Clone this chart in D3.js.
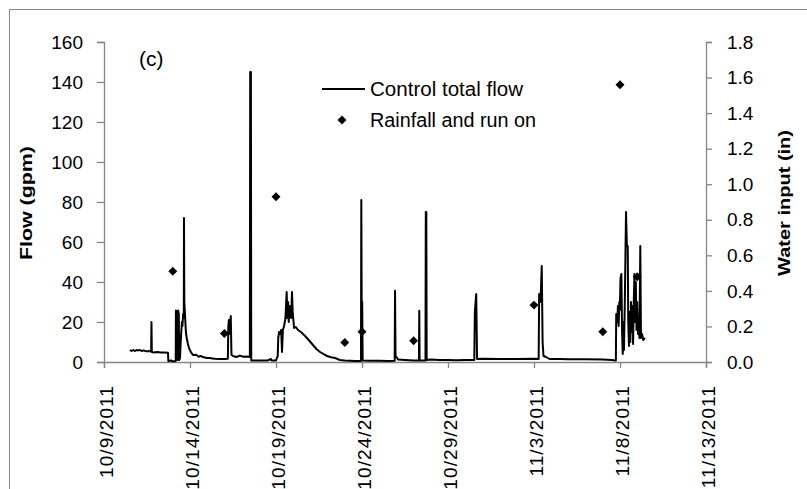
<!DOCTYPE html>
<html><head><meta charset="utf-8">
<script src="https://cdn.jsdelivr.net/npm/d3@7"></script>
<style>
body{margin:0;background:#fff;}
svg{display:block;font-family:"Liberation Sans",Arial,sans-serif;}
</style></head>
<body><svg id="c" width="807" height="489"></svg>
<script>
// ---- data ----
const startDate = "2011-10-09";
const xTickLabels = ["10/9/2011","10/14/2011","10/19/2011","10/24/2011","10/29/2011","11/3/2011","11/8/2011","11/13/2011"];
const flowTicks = [0,20,40,60,80,100,120,140,160];
const waterTicks = [0,0.2,0.4,0.6,0.8,1.0,1.2,1.4,1.6,1.8];
// flow: days after 10/9/2011 00:00 and gpm
const flowDay = [1.5,1.6,1.7,1.8,1.9,2.0,2.1,2.2,2.3,2.4,2.5,2.6,2.74,2.76,2.78,2.9,3.1,3.3,3.5,3.72,3.74,3.9,4.0,4.17,4.18,4.22,4.24,4.28,4.31,4.35,4.37,4.42,4.46,4.49,4.53,4.56,4.6,4.64,4.65,4.67,4.71,4.76,4.81,4.88,4.94,5.05,5.17,5.35,5.5,5.6,5.8,6.0,6.16,6.3,6.45,6.7,7.0,7.2,7.23,7.26,7.28,7.33,7.37,7.41,7.5,7.7,7.9,8.1,8.3,8.48,8.5,8.54,8.56,9.0,9.5,9.7,9.75,10.0,10.1,10.13,10.18,10.23,10.3,10.35,10.4,10.47,10.55,10.62,10.66,10.7,10.74,10.81,10.88,10.93,10.97,11.05,11.15,11.28,11.45,11.69,11.9,12.15,12.35,12.56,12.8,12.97,13.2,13.43,13.72,14.0,14.3,14.6,14.94,14.96,14.99,15.01,15.04,15.5,16.0,16.5,16.9,16.92,16.95,17.0,17.1,17.5,18.0,18.31,18.33,18.35,18.69,18.71,18.74,18.76,19.0,19.5,20.0,20.5,21.0,21.53,21.56,21.64,21.69,22.0,23.0,24.0,25.0,25.27,25.3,25.38,25.45,25.5,25.55,25.7,25.9,26.5,27.0,28.0,29.0,29.5,29.76,29.78,29.84,29.88,29.92,29.96,29.99,30.03,30.08,30.12,30.16,30.2,30.23,30.28,30.35,30.4,30.45,30.48,30.52,30.56,30.6,30.64,30.68,30.72,30.76,30.8,30.84,30.88,30.92,30.96,31.0,31.05,31.09,31.13,31.18,31.22,31.28,31.35,31.45];
const flowGpm = [6,5.5,6,5.5,6,5.8,6,5.5,5.8,5.5,5.3,5.5,5.2,20,5,4.8,5,4.7,4.8,4.6,0.5,0.8,0.3,0.5,25.8,25,2,1,25.8,24,1,2,10,14.6,20,18,24,22,72,30,23.6,15,12,9,7,5,3.5,3.6,2.6,3,2.4,2,2,1.8,1.6,1.5,1.5,1.6,18,21,14,18,23,3.6,3,2.5,3.2,2.6,2.8,2.5,145,145,0.8,0.8,0.7,1.5,0.7,0.8,3,12,15,14,16,5,16,18,22,35,22,30,20,28,22,35,25,17,17.5,16,15,13,11,8.5,6.5,5,3.8,3,2.4,2,1,0.7,0.6,0.5,0.5,81,5,30,0.8,0.6,0.6,0.5,0.6,35.6,3,2.5,1.2,1,0.8,0.8,25.6,0.8,0.8,75,75,1,1.2,1,1,0.9,1,1,25,34,1.5,1.6,1.5,1.5,1.6,1.5,34,30,48,10,3,2.5,1.5,1.5,1.4,1.4,1.2,1,0.8,24,20,28,18,30,26,42,44,15,4,20,6,30,75,58,58,20,8,25,10,30,15,28,9,30,44,20,40,16,30,14,19,12,58,12,14,11,12];
// rainfall and run on (in)
const rainDates = ["2011-10-13","2011-10-16","2011-10-19","2011-10-23","2011-10-24","2011-10-27","2011-11-03","2011-11-07","2011-11-08","2011-11-09"];
const rainInches = [0.51,0.16,0.93,0.11,0.17,0.12,0.32,0.17,1.56,0.48];

// ---- layout ----
const svg = d3.select("#c");
const L = 104, R = 706, T = 42, B = 362;
const axisColor = "#868686";
const parse = d3.timeParse("%Y-%m-%d");
const t0 = parse(startDate);
const x = d3.scaleTime().domain([t0, d3.timeDay.offset(t0, 35)]).range([L, R]);
const yL = d3.scaleLinear().domain([0,160]).range([B, T]);
const yR = d3.scaleLinear().domain([0,1.8]).range([B, T]);

// chart border
svg.append("rect").attr("x",9.5).attr("y",9.5).attr("width",900).attr("height",600)
  .attr("fill","none").attr("stroke",axisColor).attr("stroke-width",1);

// axes
const xTickDates = xTickLabels.map((d,i)=>d3.timeDay.offset(t0, i*5));
const xAxis = d3.axisBottom(x).tickValues(xTickDates).tickSize(6).tickFormat("");
const gx = svg.append("g").attr("transform",`translate(0,${B})`).call(xAxis);
const gl = svg.append("g").attr("transform",`translate(${L},0)`).call(d3.axisLeft(yL).tickValues(flowTicks).tickSize(7).tickFormat(""));
const gr = svg.append("g").attr("transform",`translate(${R},0)`).call(d3.axisRight(yR).tickValues(waterTicks).tickSize(6).tickFormat(""));
[gx,gl,gr].forEach(g=>{
  g.selectAll("path").attr("stroke",axisColor).attr("stroke-width",1.3);
  g.selectAll("line").attr("stroke",axisColor).attr("stroke-width",1.3);
});

// tick labels
svg.append("g").selectAll("text").data(flowTicks).join("text")
  .attr("x",83).attr("y",d=>yL(d)).attr("dy","0.35em").attr("text-anchor","end")
  .attr("font-size",19).attr("fill","#000").text(d=>d);
svg.append("g").selectAll("text").data(waterTicks).join("text")
  .attr("x",727).attr("y",d=>yR(d)).attr("dy","0.35em").attr("text-anchor","start")
  .attr("font-size",19).attr("fill","#000").text(d=>d3.format(".1f")(d));
svg.append("g").selectAll("text").data(xTickDates).join("text")
  .attr("transform",d=>`translate(${x(d)+2},385) rotate(-90)`)
  .attr("dy","0.35em").attr("text-anchor","end").attr("font-size",19)
  .attr("letter-spacing","1.1px").attr("fill","#000")
  .text((d,i)=>xTickLabels[i]);

// axis titles
svg.append("text").attr("transform",`translate(32,203) rotate(-90)`)
  .attr("text-anchor","middle").attr("font-size",17).attr("font-weight","bold")
  .attr("textLength",114).attr("lengthAdjust","spacingAndGlyphs").text("Flow (gpm)");
svg.append("text").attr("transform",`translate(790,203) rotate(-90)`)
  .attr("text-anchor","middle").attr("font-size",17).attr("font-weight","bold")
  .attr("textLength",146).attr("lengthAdjust","spacingAndGlyphs").text("Water input (in)");

// panel label
svg.append("text").attr("x",139).attr("y",66).attr("font-size",21).text("(c)");

// flow line
const flowData = flowDay.map((d,i)=>({t:new Date(t0.getTime()+d*864e5), v:flowGpm[i]}));
svg.append("path").datum(flowData)
  .attr("d", d3.line().x(d=>x(d.t)).y(d=>yL(d.v)))
  .attr("fill","none").attr("stroke","#000").attr("stroke-width",2).attr("stroke-linejoin","round");

// rainfall diamonds
const diamond = d3.symbol().type(d3.symbolSquare).size(40);
svg.append("g").selectAll("path").data(rainDates.map((d,i)=>({t:parse(d),v:rainInches[i]}))).join("path")
  .attr("d",diamond).attr("transform",d=>`translate(${x(d.t)},${yR(d.v)}) rotate(45)`).attr("fill","#000");

// legend
svg.append("line").attr("x1",322).attr("x2",365).attr("y1",89).attr("y2",89).attr("stroke","#000").attr("stroke-width",2);
svg.append("text").attr("x",370).attr("y",89).attr("dy","0.35em").attr("font-size",20)
  .attr("textLength",153).attr("lengthAdjust","spacingAndGlyphs").text("Control total flow");
svg.append("path").attr("d",diamond).attr("transform","translate(342,120) rotate(45)").attr("fill","#000");
svg.append("text").attr("x",370).attr("y",120).attr("dy","0.35em").attr("font-size",20)
  .attr("textLength",166).attr("lengthAdjust","spacingAndGlyphs").text("Rainfall and run on");
</script></body></html>
